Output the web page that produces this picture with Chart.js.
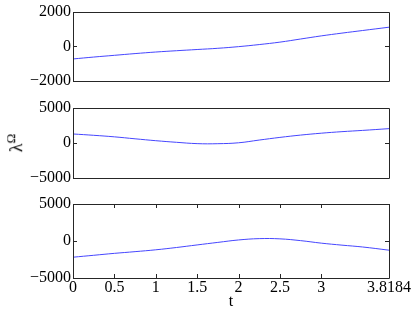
<!DOCTYPE html>
<html>
<head>
<meta charset="utf-8">
<script src="https://cdn.jsdelivr.net/npm/chart.js@4/dist/chart.umd.min.js"></script>
<style>
  body { margin: 0; background: #fff; }
  #wrap { position: relative; width: 415px; height: 311px; overflow: hidden; }
  #wrap canvas { position: absolute; left: 0; top: 0; }
  .ylab { position: absolute; left: 6px; top: 131px; font-family: "Liberation Serif", "Times New Roman", serif; font-size: 18px;
          transform: rotate(-90deg); transform-origin: center; white-space: nowrap; }
  .ylab sup { font-size: 13px; }
</style>
</head>
<body>
<div id="wrap">
  <canvas id="c1" width="415" height="311"></canvas>
  <canvas id="c2" width="415" height="311"></canvas>
  <canvas id="c3" width="415" height="311"></canvas>
  <div class="ylab">λ<sup>Ω</sup></div>
</div>
<script>
// time samples
var t = [0, 0.25, 0.5, 0.75, 1, 1.25, 1.5, 1.75, 2, 2.25, 2.5, 2.75, 3, 3.25, 3.5, 3.8184];
var lambda1 = [-730, -620, -520, -420, -330, -255, -185, -115, -20, 100, 240, 420, 600, 760, 910, 1100];
var lambda2 = [1290, 1100, 880, 600, 330, 100, -90, -100, 30, 420, 800, 1130, 1400, 1620, 1800, 2050];
var lambda3 = [-2190, -1930, -1670, -1440, -1190, -880, -530, -190, 140, 320, 290, 50, -290, -560, -810, -1240];

var xTicks = [0, 0.5, 1, 1.5, 2, 2.5, 3, 3.8184];
var yTicks1 = [-2000, 0, 2000];
var yTicks2 = [-5000, 0, 5000];
var yTicks3 = [-5000, 0, 5000];

var FONT = { family: "'Liberation Serif', 'Times New Roman', serif", size: 16 };

function fmt(v) {
  return v < 0 ? "\u2212" + String(-v) : String(v);
}

// matlab style box with inward ticks
var boxPlugin = {
  id: "box",
  afterDraw: function (chart) {
    var a = chart.chartArea, ctx = chart.ctx;
    ctx.save();
    ctx.strokeStyle = "#262626";
    ctx.lineWidth = 1;
    ctx.beginPath();
    ctx.rect(Math.round(a.left) + 0.5, Math.round(a.top) + 0.5,
             Math.round(a.right - a.left), Math.round(a.bottom - a.top));
    var ys = chart.scales.y;
    ys.ticks.forEach(function (tk) {
      var py = Math.round(ys.getPixelForValue(tk.value)) + 0.5;
      ctx.moveTo(a.left, py); ctx.lineTo(a.left + 4, py);
      ctx.moveTo(a.right, py); ctx.lineTo(a.right - 4, py);
    });
    var xs = chart.scales.x;
    if (chart.options.showXTicks) {
      xs.ticks.forEach(function (tk) {
        var px = Math.round(xs.getPixelForValue(tk.value)) + 0.5;
        ctx.moveTo(px, a.bottom); ctx.lineTo(px, a.bottom - 4);
        ctx.moveTo(px, a.top); ctx.lineTo(px, a.top + 4);
      });
    }
    ctx.stroke();
    ctx.restore();
  }
};

function makeChart(id, values, yTicks, top, bottomPad, showX) {
  return new Chart(document.getElementById(id), {
    type: "line",
    data: {
      labels: t,
      datasets: [{
        data: t.map(function (x, i) { return { x: x, y: values[i] }; }),
        borderColor: "rgb(70,70,255)",
        borderWidth: 1,
        pointRadius: 0,
        tension: 0.4,
        fill: false
      }]
    },
    options: {
      responsive: false,
      devicePixelRatio: 1,
      animation: false,
      showXTicks: showX,
      layout: { padding: { left: 0, right: 26, top: top, bottom: bottomPad } },
      plugins: { legend: { display: false }, tooltip: { enabled: false } },
      scales: {
        x: {
          type: "linear",
          display: showX,
          min: 0,
          max: 3.8184,
          afterBuildTicks: function (s) { s.ticks = xTicks.map(function (v) { return { value: v }; }); },
          afterFit: function (s) { if (showX) s.height = 33; },
          grid: { display: false, drawTicks: false },
          border: { display: false },
          ticks: { color: "#000", font: FONT, padding: 0, maxRotation: 0, autoSkip: false,
                   callback: function (v) { return String(v); } },
          title: { display: showX, text: "t", color: "#000", font: FONT, padding: { top: 0, bottom: 0 } }
        },
        y: {
          min: yTicks[0],
          max: yTicks[yTicks.length - 1],
          afterBuildTicks: function (s) { s.ticks = yTicks.map(function (v) { return { value: v }; }); },
          afterFit: function (s) { s.width = 73; },
          grid: { display: false, drawTicks: false },
          border: { display: false },
          ticks: { color: "#000", font: FONT, padding: 2, callback: fmt }
        }
      }
    },
    plugins: [boxPlugin]
  });
}

makeChart("c1", lambda1, yTicks1, 11, 230, false);
makeChart("c2", lambda2, yTicks2, 108, 133, false);
makeChart("c3", lambda3, yTicks3, 204, 0, true);
</script>
</body>
</html>
